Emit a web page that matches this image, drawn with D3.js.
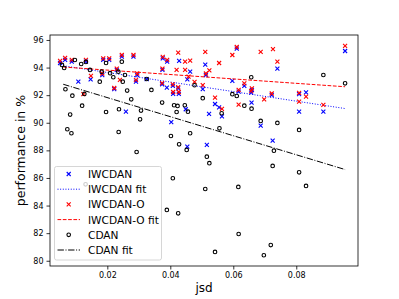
<!DOCTYPE html>
<meta charset="utf-8">
<script src="https://cdn.jsdelivr.net/npm/d3@7"></script>
<style>
  body { margin: 0; background: #fff; }
  svg text { font-family: "DejaVu Sans", sans-serif; fill: #000; }
</style>
<body>
<svg></svg>
<script>
// [jsd, performance %]
var iwcdan = [
  [0.0050,94.33],[0.0066,94.55],[0.0087,94.43],[0.0132,94.43],[0.0187,94.55],[0.0206,94.55],[0.0246,94.79],
  [0.0283,94.79],[0.0376,94.67],[0.0390,94.43],[0.0428,94.48],[0.0184,93.46],[0.0230,93.83],[0.0295,93.46],
  [0.0325,93.17],[0.0375,93.83],[0.0147,93.15],[0.0108,92.98],[0.0291,92.98],[0.0222,92.43],[0.0374,92.79],
  [0.0389,92.54],[0.0408,92.67],[0.0425,92.50],[0.0454,93.15],[0.0259,90.80],[0.0403,90.04],[0.0449,90.98],
  [0.0454,88.27],[0.0409,92.09],[0.0427,92.09],[0.0463,93.70],[0.0511,94.21],[0.0611,95.37],[0.0955,95.20],
  [0.0740,93.92],[0.0513,93.46],[0.0503,92.43],[0.0597,93.03],[0.0635,92.67],[0.0659,92.38],[0.0617,92.25],
  [0.0657,92.18],[0.0722,92.01],[0.0809,92.07],[0.0831,92.21],[0.0542,91.36],[0.0555,91.12],[0.0564,90.47],
  [0.0523,90.64],[0.0658,91.46],[0.0809,90.80],[0.0886,90.80],[0.0687,89.79],[0.0516,88.39],[0.0725,88.70]
];
var iwcdanO = [
  [0.0050,94.48],[0.0066,94.70],[0.0087,94.55],[0.0132,94.55],[0.0187,94.66],[0.0206,94.66],[0.0246,94.91],
  [0.0283,94.91],[0.0376,94.77],[0.0390,94.55],[0.0425,95.08],[0.0447,94.43],[0.0184,93.57],[0.0230,93.93],
  [0.0295,93.57],[0.0375,93.93],[0.0420,93.83],[0.0447,93.83],[0.0148,93.39],[0.0291,93.10],[0.0222,92.52],
  [0.0374,92.88],[0.0408,92.78],[0.0425,92.59],[0.0458,93.34],[0.0409,92.23],[0.0427,92.23],[0.0463,94.50],
  [0.0511,95.13],[0.0597,94.91],[0.0611,95.49],[0.0687,95.13],[0.0726,95.33],[0.0740,94.43],[0.0555,94.33],
  [0.0524,93.80],[0.0513,93.57],[0.0477,92.96],[0.0503,92.72],[0.0635,92.86],[0.0659,92.49],[0.0542,91.82],
  [0.0617,92.38],[0.0657,92.30],[0.0722,92.12],[0.0809,92.16],[0.0831,91.89],[0.0617,91.31],[0.0564,91.00],
  [0.0698,91.70],[0.0809,91.53],[0.0886,91.29],[0.0955,95.57],[0.0124,92.07],[0.0240,93.10]
];
var cdan = [
  [0.0056,94.19],[0.0063,93.97],[0.0097,94.55],[0.0117,94.26],[0.0132,94.41],[0.0196,94.33],[0.0145,93.83],
  [0.0182,93.70],[0.0209,93.59],[0.0219,93.30],[0.0235,93.70],[0.0246,94.43],[0.0256,93.46],[0.0176,92.98],
  [0.0249,92.98],[0.0067,92.43],[0.0089,91.96],[0.0127,92.09],[0.0263,92.33],[0.0340,92.38],[0.0120,91.24],
  [0.0082,90.59],[0.0073,89.53],[0.0086,89.24],[0.0236,89.33],[0.0293,87.88],[0.0196,90.78],[0.0237,90.98],
  [0.0276,91.70],[0.0307,90.88],[0.0304,90.25],[0.0374,91.46],[0.0412,91.27],[0.0423,91.22],[0.0420,90.78],
  [0.0446,91.27],[0.0456,90.80],[0.0402,89.04],[0.0428,88.44],[0.0452,88.03],[0.0408,85.98],[0.0131,85.54],
  [0.0389,83.68],[0.0425,83.44],[0.0511,85.20],[0.0616,85.35],[0.0831,85.42],[0.0617,81.94],[0.0542,80.64],
  [0.0719,81.14],[0.0697,80.40],[0.0597,92.07],[0.0611,91.94],[0.0563,90.69],[0.0635,91.24],[0.0658,91.02],
  [0.0687,90.13],[0.0740,89.99],[0.0556,89.60],[0.0809,89.48],[0.0463,89.24],[0.0729,87.98],[0.0516,87.54],
  [0.0524,87.07],[0.0725,86.87],[0.0809,86.41],[0.0657,93.30],[0.0886,93.46],[0.0955,92.86],[0.0477,92.72],
  [0.0503,91.78],[0.0325,93.17]
];
// fitted lines, values at the two ends of fitJsd
var fitJsd = [0.006, 0.0955];
var iwcdanFit = [94.13, 91.03];
var iwcdanOFit = [94.04, 92.61];
var cdanFit = [92.79, 86.61];

var xTicks = [0.02, 0.04, 0.06, 0.08];
var yTicks = [80, 82, 84, 86, 88, 90, 92, 94, 96];

var width = 399, height = 299;
var svg = d3.select("svg").attr("width", width).attr("height", height);

var x = d3.scaleLinear().domain([0.0018, 0.0996]).range([50, 358]);
var y = d3.scaleLinear().domain([79.62, 96.36]).range([266, 35]);

// axes
svg.append("g")
    .attr("transform", "translate(0,266)")
    .call(d3.axisBottom(x).tickValues(xTicks).tickFormat(d3.format(".2f")).tickSize(3.5).tickPadding(3))
    .call(function(g) { g.select(".domain").remove(); g.selectAll("text").style("font-size", "8px"); });
svg.append("g")
    .attr("transform", "translate(50,0)")
    .call(d3.axisLeft(y).tickValues(yTicks).tickSize(3.5).tickPadding(3))
    .call(function(g) { g.select(".domain").remove(); g.selectAll("text").style("font-size", "8px"); });
svg.selectAll(".tick line").attr("stroke", "#000").attr("stroke-width", 0.8);

var plot = svg.append("g");

function crosses(data, color) {
  plot.selectAll(null).data(data).enter().append("path")
      .attr("d", function(d) {
        var cx = x(d[0]), cy = y(d[1]), r = 2;
        return "M" + (cx - r) + "," + (cy - r) + "L" + (cx + r) + "," + (cy + r) +
               "M" + (cx - r) + "," + (cy + r) + "L" + (cx + r) + "," + (cy - r);
      })
      .attr("stroke", color).attr("stroke-width", 1.1).attr("fill", "none");
}
function fit(vals, color, dash) {
  plot.append("line")
      .attr("x1", x(fitJsd[0])).attr("y1", y(vals[0]))
      .attr("x2", x(fitJsd[1])).attr("y2", y(vals[1]))
      .attr("stroke", color).attr("stroke-width", 1).attr("stroke-dasharray", dash);
}

crosses(iwcdan, "#0000ff");
fit(iwcdanFit, "#0000ff", "1,1.65");
crosses(iwcdanO, "#ff0000");
fit(iwcdanOFit, "#ff0000", "3.7,1.6");
plot.selectAll(null).data(cdan).enter().append("circle")
    .attr("cx", function(d) { return x(d[0]); })
    .attr("cy", function(d) { return y(d[1]); })
    .attr("r", 1.8).attr("fill", "none").attr("stroke", "#000").attr("stroke-width", 1.1);
fit(cdanFit, "#000", "6.4,1.6,1,1.6");

// frame
svg.append("rect").attr("x", 50).attr("y", 35).attr("width", 308).attr("height", 231)
    .attr("fill", "none").attr("stroke", "#000").attr("stroke-width", 0.8);

// legend
var lg = svg.append("g");
lg.append("rect").attr("x", 54.5).attr("y", 166.5).attr("width", 107).attr("height", 93.5)
    .attr("rx", 2).attr("fill", "#fff").attr("fill-opacity", 0.8)
    .attr("stroke", "#cccccc").attr("stroke-width", 0.8);
var items = [
  {name: "IWCDAN", type: "x", color: "#0000ff"},
  {name: "IWCDAN fit", type: "line", color: "#0000ff", dash: "1,1.65"},
  {name: "IWCDAN-O", type: "x", color: "#ff0000"},
  {name: "IWCDAN-O fit", type: "line", color: "#ff0000", dash: "3.7,1.6"},
  {name: "CDAN", type: "o", color: "#000"},
  {name: "CDAN fit", type: "line", color: "#000", dash: "6.4,1.6,1,1.6"}
];
items.forEach(function(it, i) {
  var cy = 174 + i * 15.2, cx = 68.7;
  if (it.type === "x") {
    lg.append("path").attr("d", "M" + (cx - 2) + "," + (cy - 2) + "L" + (cx + 2) + "," + (cy + 2) +
        "M" + (cx - 2) + "," + (cy + 2) + "L" + (cx + 2) + "," + (cy - 2))
      .attr("stroke", it.color).attr("stroke-width", 1.1);
  } else if (it.type === "o") {
    lg.append("circle").attr("cx", cx).attr("cy", cy).attr("r", 1.8)
      .attr("fill", "none").attr("stroke", it.color).attr("stroke-width", 1.1);
  } else {
    lg.append("line").attr("x1", 57.5).attr("x2", 80).attr("y1", cy).attr("y2", cy)
      .attr("stroke", it.color).attr("stroke-width", 1).attr("stroke-dasharray", it.dash);
  }
  lg.append("text").attr("x", 88).attr("y", cy + 3.9).style("font-size", "10.6px").text(it.name);
});

// axis labels
svg.append("text").attr("x", 204).attr("y", 292).attr("text-anchor", "middle")
    .style("font-size", "12px").text("jsd");
svg.append("text").attr("transform", "translate(25,150.5) rotate(-90)").attr("text-anchor", "middle")
    .style("font-size", "12.5px").text("performance in %");
</script>
</body>
